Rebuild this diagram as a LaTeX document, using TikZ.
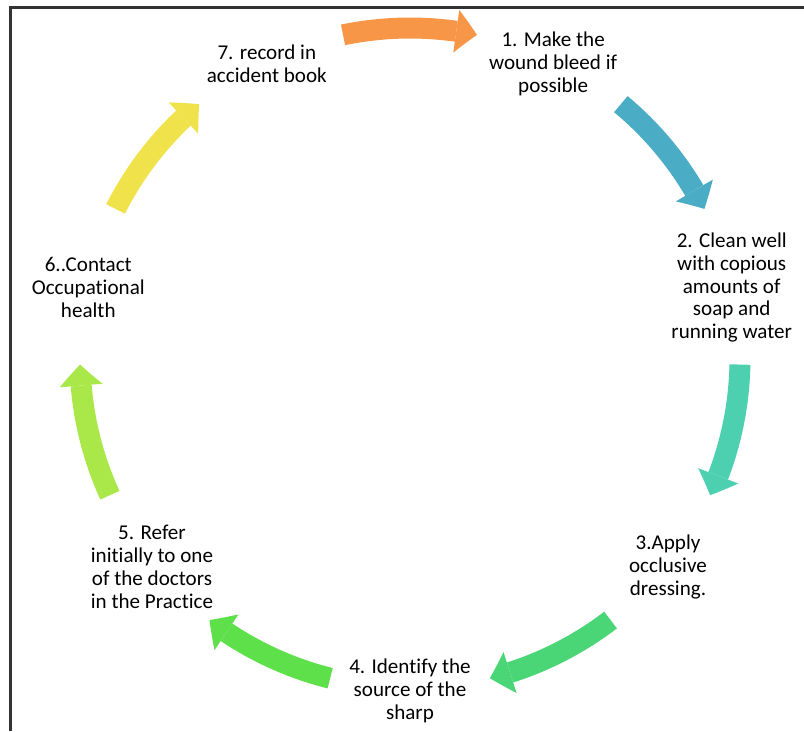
\documentclass[tikz,border=0pt]{standalone}
\usepackage{fontspec}
\setmainfont{Carlito}[Ligatures={NoCommon,NoContextual}]
\usetikzlibrary{arrows.meta,bending}

\definecolor{arrowOrange}{HTML}{F79646}
\definecolor{arrowBlue}{HTML}{4BACC6}
\definecolor{arrowTeal}{HTML}{4CD0B0}
\definecolor{arrowGreen}{HTML}{4AD676}
\definecolor{arrowLime}{HTML}{5DE04A}
\definecolor{arrowLeaf}{HTML}{AAE748}
\definecolor{arrowYellow}{HTML}{F0E24A}

\begin{document}
\begin{tikzpicture}
  [x=0.02cm,y=0.02cm,
   stage/.style={align=center,inner sep=0pt,yshift=-0.06cm,font=\fontsize{12}{13}\selectfont},
   cyclearrow/.style={line width=0.42cm,
     -{Triangle[width=0.86cm,length=0.42cm,line width=0pt,bend]}}]
  \useasboundingbox (-410,-373) rectangle (394,358);
  \draw[line width=2.2pt,black!80] (-399.5,-373) -- (-399.5,350.5) -- (394,350.5);

  \node[stage] (s1) at (64.29:330) {1. Make the\\wound bleed if\\possible};
  \node[stage] (s2) at (12.86:330) {2. Clean well\\with copious\\amounts of\\soap and\\running water};
  \node[stage] (s3) at (-38.57:330) {3.Apply\\occlusive\\dressing.};
  \node[stage] (s4) at (-90:330) {4. Identify the\\source of the\\sharp};
  \node[stage] (s5) at (-141.43:330) {5. Refer\\initially to one\\of the doctors\\in the Practice};
  \node[stage] (s6) at (167.14:330) {6..Contact\\Occupational\\health};
  \node[stage] (s7) at (115.71:330) {7. record in\\accident book};

  % arrows between the stages, on the same circle
  \foreach \tail/\tip/\col [count=\i] in {
    101.71/78.29/arrowOrange,
    50.29/26.86/arrowBlue,
    -1.14/-24.57/arrowTeal,
    -52.57/-76/arrowGreen,
    -104/-127.43/arrowLime,
    -155.43/-178.86/arrowLeaf,
    153.14/129.71/arrowYellow}
  {
    \coordinate (a\i) at (\tail:330);
    \draw[cyclearrow,draw=\col] (a\i) arc[start angle=\tail,end angle=\tip,radius=330];
  }
\end{tikzpicture}
\end{document}
